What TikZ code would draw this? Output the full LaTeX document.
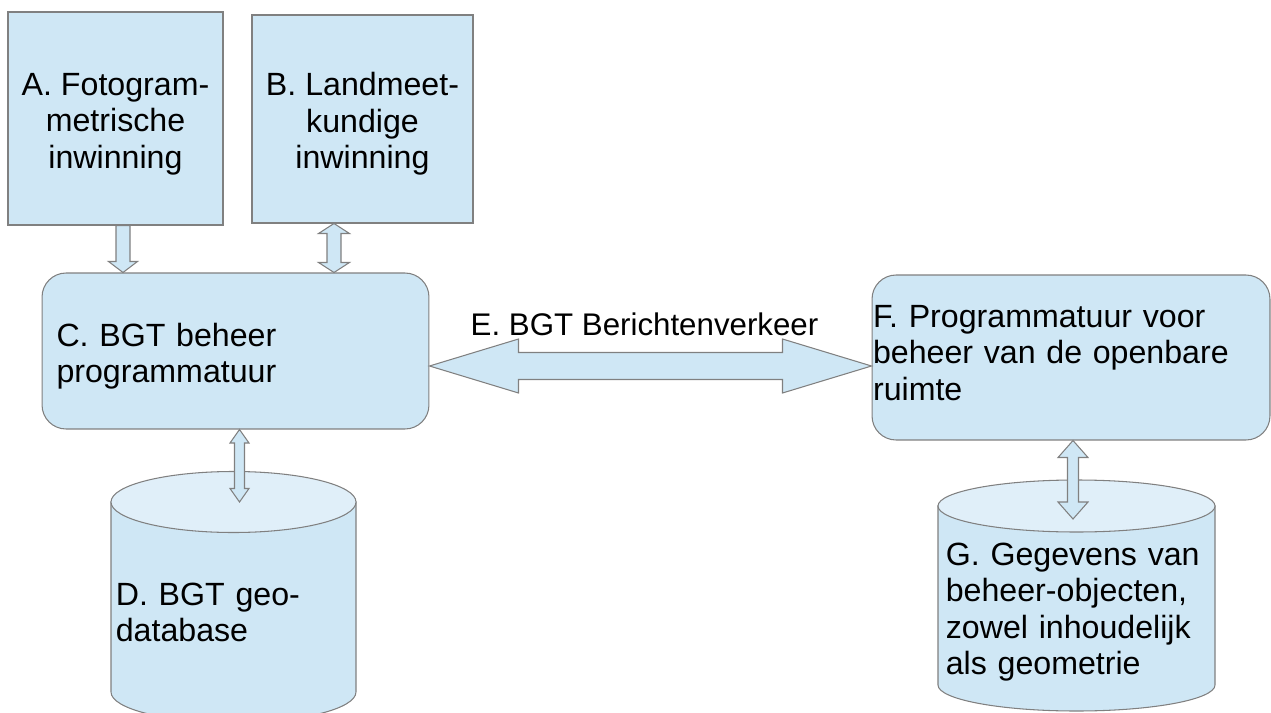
\documentclass[tikz,border=0pt]{standalone}
\usepackage{fontspec}
\setmainfont{Liberation Sans}
\usetikzlibrary{calc}

\definecolor{boxblue}{HTML}{CFE7F5}
\definecolor{toplight}{HTML}{E0EFF9}
\definecolor{edgegray}{HTML}{808080}

\newcommand{\bigtxt}{\fontsize{18.3}{20.8}\selectfont}
\newcommand{\pxu}{0.02cm}
% struts to push the text block down / up inside its box
\newcommand{\padtop}{\rule{0pt}{0.67cm}}
\newcommand{\padbot}{\rule[-0.2cm]{0pt}{0.2cm}}

% fat vertical arrow, head at the lower end only
\newcommand{\vdown}[5]{%
  \draw[fat] let \p1=(#1), \p2=(#2) in
    (\x1-#3*\pxu,\y1) -- (\x1-#3*\pxu,\y2+#5*\pxu) -- (\x1-#4*\pxu,\y2+#5*\pxu)
    -- (\x1,\y2) -- (\x1+#4*\pxu,\y2+#5*\pxu) -- (\x1+#3*\pxu,\y2+#5*\pxu)
    -- (\x1+#3*\pxu,\y1) -- cycle;}
% fat vertical arrow, heads at both ends
\newcommand{\vboth}[5]{%
  \draw[fat] let \p1=(#1), \p2=(#2) in
    (\x1,\y1) -- (\x1+#4*\pxu,\y1-#5*\pxu) -- (\x1+#3*\pxu,\y1-#5*\pxu)
    -- (\x1+#3*\pxu,\y2+#5*\pxu) -- (\x1+#4*\pxu,\y2+#5*\pxu) -- (\x1,\y2)
    -- (\x1-#4*\pxu,\y2+#5*\pxu) -- (\x1-#3*\pxu,\y2+#5*\pxu)
    -- (\x1-#3*\pxu,\y1-#5*\pxu) -- (\x1-#4*\pxu,\y1-#5*\pxu) -- cycle;}

\begin{document}
\begin{tikzpicture}[
    x=0.02cm, y=-0.02cm,
    box/.style={draw=edgegray, fill=boxblue, line width=0.6pt, inner sep=0pt, font=\bigtxt},
    rbox/.style={box, rounded corners=0.48cm},
    txt/.style={inner sep=0pt, font=\bigtxt, align=left},
    fat/.style={draw=edgegray, fill=boxblue, line width=0.6pt, line join=miter},
    body/.style={draw=edgegray, fill=boxblue, line width=0.6pt},
    lid/.style={draw=edgegray, fill=toplight, line width=0.6pt},
]
\useasboundingbox (0,0) rectangle (1271,713);
\clip (0,0) rectangle (1271,713);

% inwinning
\node[box, align=center, minimum width=4.3cm, minimum height=4.26cm] (A) at (115.5,118.5)
    {\padtop A. Fotogram-\\metrische\\inwinning};
\node[box, align=center, minimum width=4.42cm, minimum height=4.16cm] (B) at (362.5,119)
    {\padtop B. Landmeet-\\kundige\\inwinning};

% programmatuur
\node[rbox, align=left, text width=7.16cm, inner xsep=0.29cm, minimum height=3.12cm] (C) at (235.5,351)
    {\padtop C. BGT beheer\\programmatuur};
\node[rbox, align=left, text width=7.92cm, inner xsep=0.02cm, minimum height=3.3cm] (F) at (1071,357.5)
    {F. Programmatuur voor\\beheer van de openbare\\ruimte\padbot};

% databases
\draw[body] (111,502) -- (111,692) arc[start angle=180, end angle=0, x radius=122.5, y radius=30.5] -- (356,502) -- cycle;
\draw[lid] (233.5,502) ellipse [x radius=122.5, y radius=30.5];
\coordinate (Dtop) at (233.5,502);
\node[txt, text width=4.5cm, anchor=base west] (D) at (115.5,605) {D. BGT geo-\\database};

\draw[body] (938,506) -- (938,685) arc[start angle=180, end angle=0, x radius=138.5, y radius=26] -- (1215,506) -- cycle;
\draw[lid] (1076.5,506) ellipse [x radius=138.5, y radius=26];
\coordinate (Gtop) at (1076.5,506);
\node[txt, text width=5.4cm, anchor=base west] (G) at (945.5,565)
    {G. Gegevens van\\beheer-objecten,\\zowel inhoudelijk\\als geometrie};

% arrows
\vdown{$(A.south)+(7.5,0)$}{C.north}{7}{14.5}{11}
\vboth{$(B.south)+(-28.5,0)$}{C.north}{7}{15.5}{10}
\vboth{$(C.south)+(4,0)$}{Dtop}{5}{9.5}{13.5}
\vboth{$(F.south)+(2,0)$}{$(Gtop)+(0,13)$}{5.5}{15}{17}

% berichtenverkeer
\draw[fat] let \p1=($(C.east)+(0,15)$), \p2=(F.west) in
    (\x1,\y1) -- (\x1+89*\pxu,\y1+27*\pxu) -- (\x1+89*\pxu,\y1+13.5*\pxu)
    -- (\x2-89*\pxu,\y1+13.5*\pxu) -- (\x2-89*\pxu,\y1+27*\pxu) -- (\x2,\y1)
    -- (\x2-89*\pxu,\y1-27*\pxu) -- (\x2-89*\pxu,\y1-13.5*\pxu)
    -- (\x1+89*\pxu,\y1-13.5*\pxu) -- (\x1+89*\pxu,\y1-27*\pxu) -- cycle;
\node[txt, font=\fontsize{17.8}{20.8}\selectfont, anchor=base] (E) at (644.5,335) {E. BGT Berichtenverkeer};

\end{tikzpicture}
\end{document}
